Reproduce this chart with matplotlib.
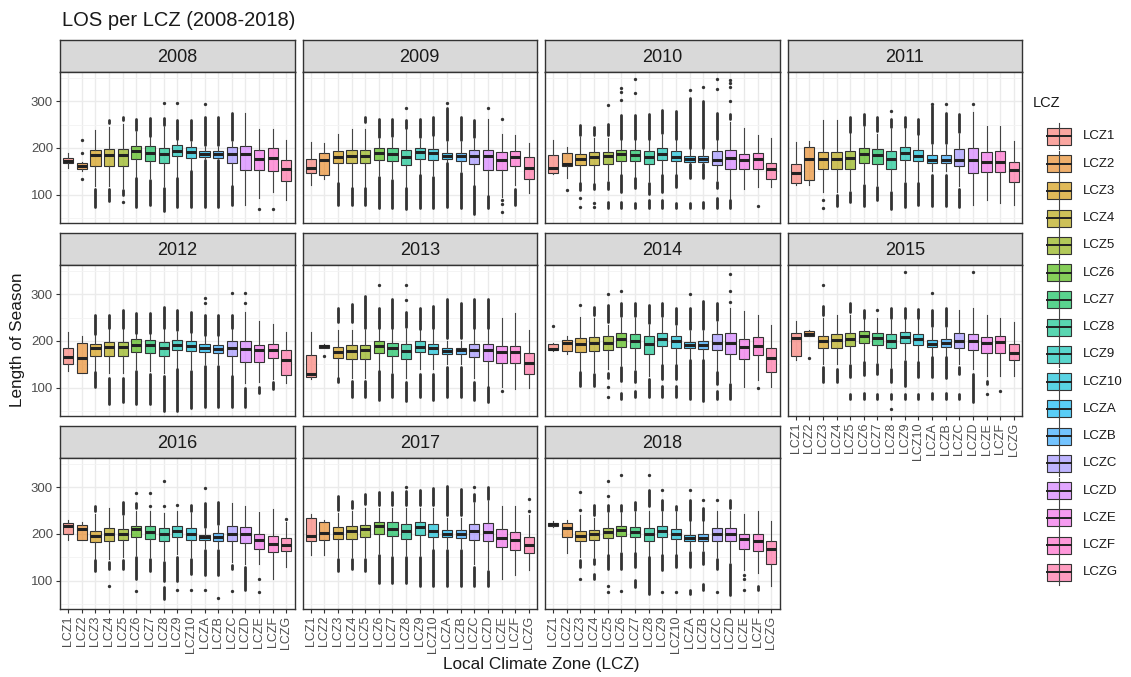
import numpy as np
import matplotlib
matplotlib.use("Agg")
import matplotlib.pyplot as plt
from matplotlib.patches import Rectangle

plt.rcParams['font.family'] = ['Liberation Sans', 'DejaVu Sans']

YEARS = [2008, 2009, 2010, 2011, 2012, 2013, 2014, 2015, 2016, 2017, 2018]
LCZ = ['LCZ1', 'LCZ2', 'LCZ3', 'LCZ4', 'LCZ5', 'LCZ6', 'LCZ7', 'LCZ8', 'LCZ9',
       'LCZ10', 'LCZA', 'LCZB', 'LCZC', 'LCZD', 'LCZE', 'LCZF', 'LCZG']

# box statistics per year (rows) and zone (columns)
Q1 = [
    [167, 155, 162, 162, 162, 177, 173, 167, 182, 179, 181, 179, 169, 153, 153, 151, 130],
    [147, 142, 167, 167, 167, 174, 173, 163, 177, 175, 176, 172, 165, 152, 152, 161, 133],
    [147, 161, 163, 163, 165, 173, 172, 165, 174, 172, 170, 170, 164, 155, 155, 155, 133],
    [126, 131, 155, 155, 155, 167, 165, 156, 174, 172, 169, 169, 161, 147, 149, 148, 128],
    [151, 131, 169, 169, 169, 176, 175, 169, 180, 178, 176, 175, 168, 155, 155, 164, 128],
    [124, 186, 163, 162, 162, 174, 169, 162, 176, 173, 173, 173, 166, 158, 153, 153, 130],
    [180, 178, 177, 178, 180, 187, 184, 173, 189, 186, 184, 182, 180, 173, 162, 171, 133],
    [169, 210, 186, 186, 189, 196, 192, 184, 196, 191, 187, 187, 186, 180, 175, 175, 160],
    [199, 187, 182, 186, 187, 193, 190, 184, 193, 187, 187, 186, 186, 180, 168, 161, 164],
    [186, 187, 189, 189, 193, 201, 196, 190, 198, 193, 193, 191, 187, 184, 173, 166, 160],
    [216, 194, 184, 187, 191, 196, 194, 186, 194, 189, 184, 184, 186, 184, 169, 164, 137],
]
MED = [
    [172, 161, 184, 184, 184, 193, 190, 187, 194, 191, 187, 187, 187, 187, 177, 178, 156],
    [157, 174, 181, 183, 183, 190, 188, 181, 191, 189, 182, 182, 182, 182, 175, 180, 158],
    [157, 165, 177, 180, 182, 188, 184, 180, 187, 181, 176, 176, 175, 179, 174, 176, 155],
    [147, 176, 177, 177, 179, 188, 184, 177, 189, 182, 175, 175, 175, 175, 170, 170, 152],
    [166, 164, 185, 187, 187, 192, 191, 186, 192, 189, 185, 182, 185, 182, 180, 181, 160],
    [130, 189, 176, 178, 181, 189, 186, 178, 187, 184, 179, 180, 181, 180, 176, 176, 153],
    [183, 196, 194, 196, 196, 204, 201, 194, 205, 200, 191, 191, 196, 196, 187, 189, 164],
    [206, 214, 199, 203, 205, 210, 207, 201, 209, 204, 194, 195, 201, 201, 196, 198, 174],
    [216, 211, 196, 201, 201, 210, 205, 200, 207, 200, 193, 193, 200, 200, 187, 179, 176],
    [196, 203, 203, 207, 211, 216, 211, 207, 214, 207, 201, 200, 207, 205, 191, 187, 176],
    [221, 212, 196, 199, 204, 209, 205, 201, 206, 201, 191, 191, 199, 199, 189, 186, 168],
]
Q3 = [
    [179, 167, 196, 197, 197, 204, 204, 199, 206, 202, 194, 194, 201, 204, 196, 199, 174],
    [176, 190, 193, 196, 196, 200, 200, 195, 200, 197, 190, 190, 196, 196, 191, 194, 180],
    [184, 190, 188, 191, 191, 196, 196, 194, 199, 193, 182, 182, 194, 196, 188, 190, 169],
    [165, 202, 191, 191, 193, 200, 198, 194, 202, 196, 184, 184, 197, 199, 191, 193, 170],
    [186, 196, 194, 198, 198, 205, 203, 198, 203, 200, 193, 191, 200, 200, 191, 194, 181],
    [171, 192, 187, 191, 191, 200, 196, 194, 199, 194, 184, 186, 194, 194, 189, 189, 174],
    [194, 203, 206, 209, 211, 217, 214, 210, 217, 211, 198, 200, 214, 216, 205, 209, 186],
    [217, 221, 210, 214, 216, 221, 217, 214, 219, 214, 203, 205, 216, 214, 209, 210, 194],
    [223, 219, 206, 212, 211, 217, 216, 212, 218, 212, 198, 203, 216, 214, 201, 196, 191],
    [235, 225, 214, 216, 219, 226, 225, 221, 226, 221, 209, 209, 221, 224, 210, 205, 194],
    [224, 223, 206, 209, 212, 217, 214, 212, 216, 210, 198, 200, 212, 212, 201, 201, 186],
]
WLO = [
    [157, 150, 118, 118, 114, 139, 135, 118, 139, 153, 178, 178, 121, 79, 93, 106, 89],
    [122, 133, 128, 117, 117, 142, 135, 117, 145, 142, 170, 150, 121, 100, 96, 121, 105],
    [145, 135, 128, 125, 131, 145, 138, 130, 145, 145, 168, 168, 131, 89, 113, 117, 117],
    [122, 122, 106, 106, 110, 125, 122, 110, 130, 128, 150, 150, 118, 78, 89, 82, 78],
    [137, 131, 135, 131, 131, 140, 135, 131, 143, 140, 150, 150, 128, 110, 112, 119, 110],
    [119, 184, 124, 120, 120, 138, 133, 120, 140, 140, 150, 150, 120, 105, 101, 97, 100],
    [178, 173, 137, 134, 140, 148, 140, 125, 150, 150, 162, 162, 137, 112, 101, 117, 101],
    [160, 210, 150, 150, 152, 158, 155, 145, 162, 158, 167, 167, 150, 140, 126, 126, 125],
    [187, 187, 146, 146, 150, 155, 150, 145, 158, 150, 170, 170, 140, 135, 137, 105, 130],
    [155, 155, 150, 150, 150, 160, 155, 155, 155, 168, 170, 170, 135, 125, 105, 112, 123],
    [214, 159, 150, 150, 158, 164, 162, 153, 158, 158, 165, 165, 150, 140, 123, 116, 89],
]
WHI = [
    [190, 170, 238, 244, 252, 235, 224, 245, 217, 213, 203, 203, 213, 274, 240, 240, 218],
    [213, 211, 230, 240, 241, 220, 222, 240, 220, 225, 213, 213, 220, 261, 230, 227, 211],
    [216, 202, 223, 222, 222, 217, 217, 217, 228, 217, 197, 197, 217, 255, 243, 227, 221],
    [213, 215, 259, 259, 232, 245, 230, 240, 240, 227, 206, 206, 230, 277, 247, 247, 215],
    [219, 211, 212, 225, 225, 216, 216, 225, 220, 218, 210, 210, 225, 262, 243, 236, 219],
    [219, 194, 223, 223, 223, 225, 225, 225, 225, 225, 200, 200, 225, 225, 248, 260, 223],
    [196, 210, 252, 250, 235, 250, 250, 235, 250, 232, 222, 222, 240, 270, 264, 255, 234],
    [243, 223, 250, 255, 255, 247, 250, 245, 247, 247, 227, 227, 266, 270, 255, 248, 241],
    [230, 226, 243, 255, 238, 250, 250, 245, 250, 245, 210, 218, 266, 259, 246, 254, 225],
    [243, 230, 245, 250, 255, 255, 255, 255, 255, 255, 235, 235, 265, 270, 259, 259, 240],
    [228, 229, 240, 235, 245, 245, 247, 250, 247, 247, 227, 227, 250, 250, 242, 250, 228],
]

# outliers per year: (zone index, low, high); low == high is a single point,
# otherwise a stretch of overlapping points
OUTLIERS = [
    [(1, 216, 216), (1, 190, 190), (1, 133, 133), (2, 75, 112), (3, 86, 112), (3, 253, 260),
     (4, 100, 110), (4, 85, 85), (4, 260, 267), (5, 75, 136), (5, 238, 261), (6, 79, 132),
     (6, 226, 263), (7, 65, 115), (7, 248, 263), (7, 295, 295), (8, 75, 136), (8, 220, 260),
     (8, 295, 295), (9, 75, 150), (9, 216, 260), (10, 75, 175), (10, 206, 267), (10, 293, 293),
     (11, 75, 175), (11, 206, 267), (12, 79, 118), (12, 216, 274), (14, 69, 69), (15, 69, 69)],
    [(2, 79, 125), (3, 78, 114), (4, 78, 114), (4, 255, 265), (5, 71, 139), (5, 223, 262),
     (6, 71, 132), (6, 225, 262), (7, 70, 114), (7, 243, 260), (7, 285, 285), (8, 71, 142),
     (8, 223, 261), (9, 71, 139), (9, 228, 266), (10, 75, 167), (10, 216, 285), (10, 295, 295),
     (11, 73, 147), (11, 216, 265), (12, 60, 118), (12, 223, 259), (13, 72, 97), (13, 285, 285),
     (14, 89, 89), (14, 80, 80), (14, 64, 64), (14, 261, 261), (15, 78, 112)],
    [(1, 110, 110), (2, 110, 125), (2, 94, 94), (2, 74, 74), (2, 227, 250), (3, 113, 124),
     (3, 82, 82), (3, 74, 74), (3, 227, 245), (4, 113, 128), (4, 71, 85), (4, 227, 252),
     (4, 291, 291), (5, 106, 142), (5, 71, 85), (5, 220, 270), (5, 302, 302), (5, 319, 319),
     (5, 328, 328), (6, 114, 135), (6, 71, 82), (6, 220, 270), (6, 318, 318), (6, 347, 347),
     (7, 101, 126), (7, 71, 90), (7, 220, 273), (8, 106, 142), (8, 71, 90), (8, 231, 282),
     (9, 117, 142), (9, 71, 82), (9, 220, 279), (10, 135, 165), (10, 71, 82), (10, 200, 306),
     (10, 323, 323), (11, 135, 165), (11, 71, 85), (11, 200, 300), (11, 330, 330),
     (12, 114, 128), (12, 71, 94), (12, 220, 275), (12, 326, 326), (12, 347, 347),
     (13, 71, 88), (13, 262, 272), (13, 301, 301), (13, 330, 330), (13, 338, 338),
     (13, 346, 346), (15, 77, 77)],
    [(2, 89, 89), (2, 72, 72), (3, 77, 100), (4, 85, 106), (4, 234, 266), (5, 76, 122),
     (5, 250, 272), (6, 89, 117), (6, 236, 266), (7, 70, 106), (7, 245, 262), (7, 278, 278),
     (8, 75, 125), (8, 245, 266), (9, 78, 125), (9, 230, 262), (10, 76, 142), (10, 210, 290),
     (10, 294, 294), (11, 76, 142), (11, 210, 275), (11, 294, 294), (12, 74, 113),
     (12, 234, 272), (13, 294, 294)],
    [(2, 101, 133), (2, 214, 255), (3, 66, 120), (3, 228, 255), (4, 70, 120), (4, 228, 266),
     (5, 65, 135), (5, 218, 260), (6, 65, 130), (6, 218, 260), (7, 51, 125), (7, 228, 272),
     (8, 51, 140), (8, 223, 265), (9, 58, 137), (9, 220, 262), (10, 60, 147), (10, 212, 255),
     (10, 280, 280), (10, 291, 291), (11, 60, 147), (11, 212, 255), (12, 60, 125),
     (12, 228, 255), (12, 303, 303), (13, 60, 100), (13, 280, 280), (13, 303, 303),
     (14, 90, 101), (15, 97, 112)],
    [(1, 168, 168), (2, 112, 120), (2, 241, 270), (3, 81, 115), (3, 241, 278), (4, 81, 115),
     (4, 228, 295), (5, 75, 135), (5, 228, 270), (5, 320, 320), (6, 80, 130), (6, 228, 290),
     (7, 72, 112), (7, 230, 262), (7, 287, 287), (7, 320, 320), (8, 80, 130), (8, 225, 270),
     (9, 75, 130), (9, 228, 274), (10, 80, 145), (10, 206, 290), (11, 80, 145), (11, 206, 280),
     (12, 75, 113), (12, 228, 290), (13, 69, 101), (13, 228, 290), (14, 94, 94)],
    [(0, 232, 232), (2, 105, 133), (2, 277, 277), (3, 105, 130), (3, 255, 273), (4, 120, 131),
     (4, 101, 101), (4, 80, 80), (4, 240, 277), (4, 300, 300), (5, 115, 144), (5, 76, 90),
     (5, 253, 280), (5, 307, 307), (6, 112, 137), (6, 80, 94), (6, 253, 280), (7, 80, 119),
     (7, 238, 277), (8, 119, 148), (8, 80, 105), (8, 253, 280), (9, 119, 148), (9, 80, 105),
     (9, 236, 270), (10, 76, 159), (10, 225, 270), (10, 300, 300), (11, 72, 159),
     (11, 225, 285), (12, 108, 133), (12, 76, 94), (12, 244, 282), (13, 76, 108),
     (13, 284, 284), (13, 307, 307), (13, 342, 342), (15, 100, 100)],
    [(1, 163, 163), (2, 112, 144), (2, 255, 275), (2, 320, 320), (3, 112, 140), (4, 123, 148),
     (4, 76, 87), (4, 262, 280), (5, 128, 155), (5, 76, 88), (5, 250, 266), (6, 130, 151),
     (6, 76, 87), (6, 266, 266), (7, 112, 140), (7, 76, 87), (7, 54, 54), (7, 250, 270),
     (8, 105, 158), (8, 76, 87), (8, 250, 270), (8, 348, 348), (9, 123, 155), (9, 76, 87),
     (9, 250, 268), (10, 123, 165), (10, 76, 90), (10, 232, 266), (10, 302, 302),
     (11, 120, 165), (11, 76, 90), (11, 232, 270), (12, 130, 144), (12, 76, 87), (13, 70, 130),
     (13, 348, 348), (14, 108, 115), (14, 87, 87), (15, 94, 94)],
    [(2, 121, 144), (2, 248, 259), (3, 126, 140), (3, 89, 89), (4, 126, 144), (4, 242, 269),
     (5, 105, 151), (5, 78, 78), (5, 255, 266), (5, 287, 287), (6, 120, 147), (6, 259, 259),
     (6, 287, 287), (7, 100, 140), (7, 62, 87), (7, 259, 259), (7, 312, 312), (8, 100, 150),
     (8, 81, 81), (8, 262, 262), (9, 115, 147), (9, 81, 81), (9, 250, 262), (10, 112, 165),
     (10, 81, 81), (10, 215, 266), (10, 298, 298), (11, 112, 165), (11, 64, 64),
     (11, 222, 268), (12, 126, 133), (12, 78, 78), (13, 80, 130), (14, 105, 105),
     (14, 76, 76), (16, 231, 231)],
    [(2, 120, 146), (2, 251, 280), (3, 126, 146), (3, 255, 270), (4, 120, 146), (4, 264, 286),
     (5, 95, 155), (5, 262, 290), (6, 95, 150), (6, 262, 290), (7, 95, 150), (7, 262, 291),
     (7, 301, 301), (8, 90, 150), (8, 262, 293), (9, 90, 165), (9, 262, 298), (10, 90, 165),
     (10, 240, 303), (11, 90, 165), (11, 240, 295), (12, 90, 130), (12, 270, 286),
     (12, 301, 301), (13, 90, 120), (13, 275, 301), (16, 248, 248), (16, 274, 274)],
    [(2, 130, 144), (2, 103, 103), (2, 251, 251), (2, 289, 289), (3, 137, 147), (3, 105, 115),
     (3, 240, 262), (4, 126, 155), (4, 89, 89), (4, 76, 76), (4, 250, 262), (4, 281, 281),
     (4, 314, 314), (5, 126, 160), (5, 78, 78), (5, 248, 262), (5, 326, 326), (6, 130, 159),
     (6, 87, 101), (6, 251, 269), (7, 73, 150), (7, 259, 294), (7, 326, 326), (8, 123, 155),
     (8, 76, 76), (8, 251, 273), (8, 294, 294), (9, 130, 155), (9, 76, 76), (9, 251, 259),
     (10, 130, 162), (10, 73, 80), (10, 230, 273), (10, 294, 294), (11, 137, 162),
     (11, 80, 94), (11, 230, 255), (11, 273, 273), (12, 126, 147), (12, 76, 76),
     (12, 273, 273), (13, 69, 137), (13, 255, 273), (14, 112, 112), (14, 104, 104),
     (14, 80, 80), (15, 80, 90)],
]


def hue_colour(h, c=100.0, l=65.0):
    # polar CIE-Luv -> sRGB, same scheme as the default discrete hue palette
    hr = np.deg2rad(h)
    u, v = c * np.cos(hr), c * np.sin(hr)
    xn, yn, zn = 95.047, 100.0, 108.883
    un = 4 * xn / (xn + 15 * yn + 3 * zn)
    vn = 9 * yn / (xn + 15 * yn + 3 * zn)
    y = yn * ((l + 16) / 116) ** 3
    up = u / (13 * l) + un
    vp = v / (13 * l) + vn
    x = y * 9 * up / (4 * vp)
    z = y * (12 - 3 * up - 20 * vp) / (4 * vp)
    x, y, z = x / 100, y / 100, z / 100
    rgb = np.array([3.2406 * x - 1.5372 * y - 0.4986 * z,
                    -0.9689 * x + 1.8758 * y + 0.0415 * z,
                    0.0557 * x - 0.2040 * y + 1.0570 * z])
    rgb = np.where(rgb > 0.0031308, 1.055 * np.abs(rgb) ** (1 / 2.4) - 0.055, 12.92 * rgb)
    return tuple(np.clip(rgb, 0, 1))


hues = np.linspace(15, 375, len(LCZ) + 1)[:-1]
FILL_ALPHA = 0.65
colours = [hue_colour(h) + (FILL_ALPHA,) for h in hues]

DARK = '#333333'
W, H = 1131, 677
fig = plt.figure(figsize=(W / 100, H / 100), dpi=100)
fig.patch.set_facecolor('white')


def px_axes(x0, y0, x1, y1):
    return fig.add_axes([x0 / W, 1 - y1 / H, (x1 - x0) / W, (y1 - y0) / H])


COL_X = [60, 302.5, 545, 787.5]
PANEL_W = 234.5
STRIP_TOP = [40, 233, 426]
STRIP_H = 32
PANEL_H = 151
YLIM = (40, 362)
pos = np.arange(1, len(LCZ) + 1)

for i, year in enumerate(YEARS):
    r, c = divmod(i, 4)
    x0 = COL_X[c]
    st = STRIP_TOP[r]
    pt = st + STRIP_H

    # strip
    sax = px_axes(x0, st, x0 + PANEL_W, pt)
    sax.set_facecolor('#D9D9D9')
    sax.set_xticks([])
    sax.set_yticks([])
    for sp in sax.spines.values():
        sp.set_color(DARK)
        sp.set_linewidth(1.0)
    sax.text(0.5, 0.45, str(year), transform=sax.transAxes, ha='center', va='center',
             fontsize=13, color='#1A1A1A')

    ax = px_axes(x0, pt, x0 + PANEL_W, pt + PANEL_H)
    ax.set_facecolor('white')
    ax.set_axisbelow(True)
    stats = [dict(med=MED[i][k], q1=Q1[i][k], q3=Q3[i][k],
                  whislo=WLO[i][k], whishi=WHI[i][k], fliers=[]) for k in range(len(LCZ))]
    bp = ax.bxp(stats, positions=pos, widths=0.75, patch_artist=True, showcaps=False,
                showfliers=False, manage_ticks=False,
                boxprops=dict(edgecolor=DARK, linewidth=0.8),
                whiskerprops=dict(color='#444444', linewidth=0.8),
                medianprops=dict(color='#222222', linewidth=2.2, solid_capstyle='butt'))
    for patch, col in zip(bp['boxes'], colours):
        patch.set_facecolor(col)

    for k, lo, hi in OUTLIERS[i]:
        if lo == hi:
            ax.plot(k + 1, lo, 'o', ms=2.4, mew=0, color=DARK, zorder=3)
        else:
            ax.vlines(k + 1, lo, hi, colors=DARK, linewidth=2.0, capstyle='round', zorder=3)

    ax.set_xlim(0.4, len(LCZ) + 0.6)
    ax.set_ylim(*YLIM)
    ax.set_xticks(pos)
    ax.set_yticks([100, 200, 300])
    ax.set_yticks([50, 150, 250, 350], minor=True)
    ax.grid(which='major', color='#EBEBEB', linewidth=1.0)
    ax.grid(which='minor', axis='y', color='#F3F3F3', linewidth=0.6)
    for sp in ax.spines.values():
        sp.set_color(DARK)
        sp.set_linewidth(1.0)

    ax.tick_params(which='both', length=3, width=0.8, color=DARK, labelsize=9,
                   labelcolor='#4D4D4D', pad=2)
    ax.tick_params(which='minor', length=0)
    if c == 0:
        ax.tick_params(axis='y', labelsize=9.5)
    else:
        ax.tick_params(axis='y', left=False, labelleft=False)
    if i >= 7:
        ax.set_xticklabels(LCZ, rotation=90)
    else:
        ax.tick_params(axis='x', bottom=False, labelbottom=False)

# legend
lax = px_axes(1025, 80, 1131, 600)
lax.set_xlim(1025, 1131)
lax.set_ylim(600, 80)
lax.axis('off')
lax.text(1033, 103, 'LCZ', fontsize=10.5, va='center', ha='left', color='#1A1A1A')
for k, name in enumerate(LCZ):
    yc = 136.5 + k * 27.25
    lax.plot([1059, 1059], [yc - 13, yc + 13], color='#444444', lw=0.8)
    lax.add_patch(Rectangle((1047, yc - 8.5), 24, 17, facecolor='white', edgecolor='none'))
    lax.add_patch(Rectangle((1047, yc - 8.5), 24, 17, facecolor=colours[k],
                            edgecolor=DARK, lw=0.8))
    lax.plot([1047, 1071], [yc, yc], color='#222222', lw=1.4)
    lax.text(1083, yc, name, fontsize=9.5, va='center', ha='left', color='#1A1A1A')

fig.text(62 / W, 1 - 21 / H, 'LOS per LCZ (2008-2018)', fontsize=14.5, va='center',
         ha='left', color='#1A1A1A')
fig.text(18 / W, 1 - 340 / H, 'Length of Season', rotation=90, fontsize=12.3,
         va='center', ha='center', color='#1A1A1A')
fig.text(541 / W, 1 - 664 / H, 'Local Climate Zone (LCZ)', fontsize=12.3,
         va='center', ha='center', color='#1A1A1A')

fig.savefig('out.png', dpi=100)
